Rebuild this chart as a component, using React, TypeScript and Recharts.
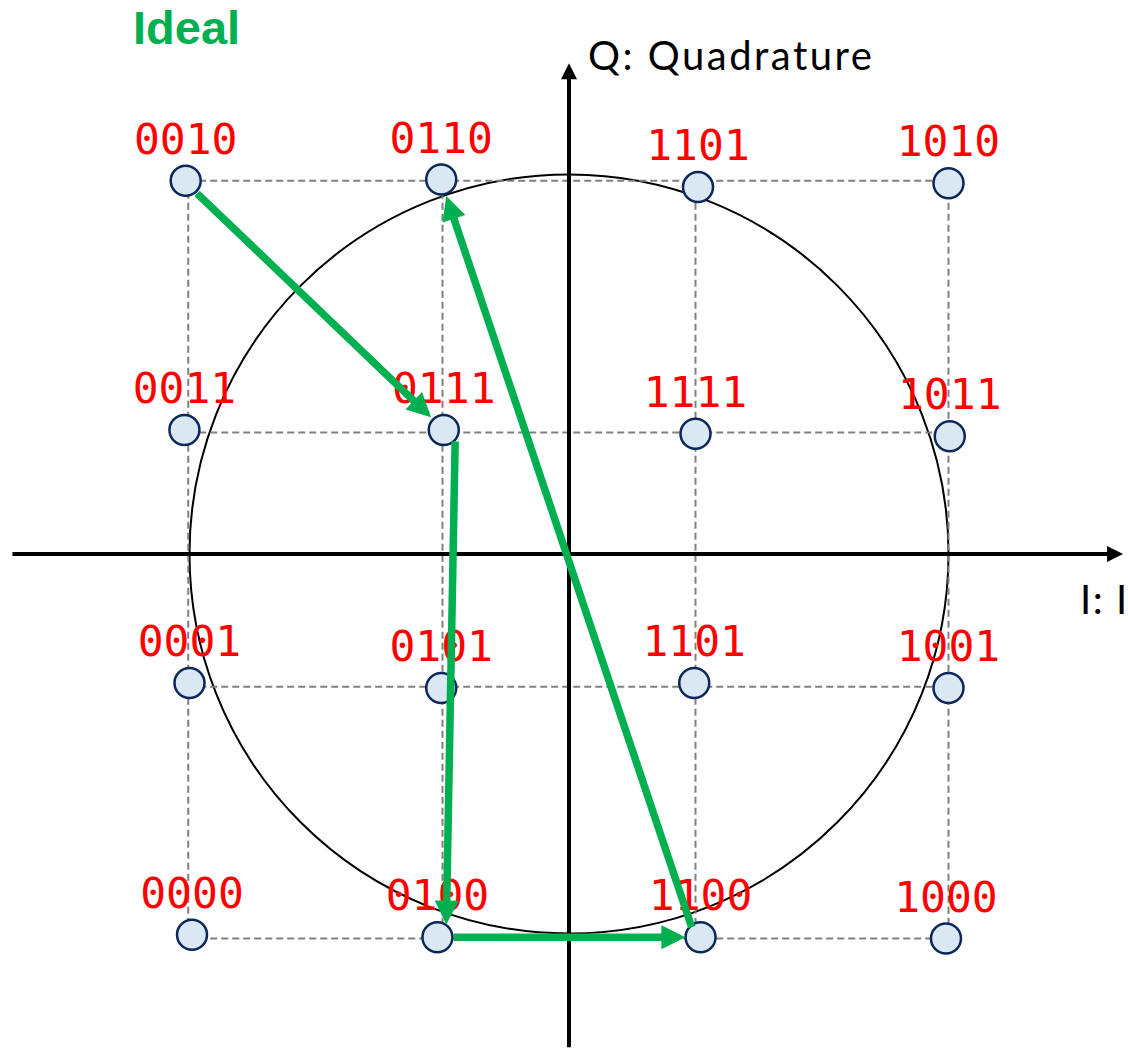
import React from 'react';
import { ScatterChart, Scatter, XAxis, YAxis, ReferenceLine, ReferenceArea } from 'recharts';

// 16-QAM constellation, values (hand placed, so not exactly on the grid)
const codes = [
  '0010', '0110', '1101', '1010',
  '0011', '0111', '1111', '1011',
  '0001', '0101', '1101', '1001',
  '0000', '0100', '1100', '1000',
];
const pointI = [-3.03, -1.01, 1.02, 3.0, -3.04, -0.99, 1.0, 3.01, -3.0, -1.01, 0.99, 3.0, -2.98, -1.04, 1.04, 2.98];
const pointQ = [2.95, 2.96, 2.9, 2.93, 0.98, 0.98, 0.95, 0.93, -1.02, -1.06, -1.02, -1.06, -3.01, -3.03, -3.03, -3.04];

// dashed guide lines
const gridI = [-3.01, -1.0, 1.0, 3.0];
const gridQ = [2.95, 0.96, -1.05, -3.04];

// green path 0010 -> 0111 -> 0100 -> 1100 -> 0110
const arrowFromI = [-2.94, -0.9, -0.91, 0.97];
const arrowFromQ = [2.85, 0.89, -3.03, -2.95];
const arrowToI = [-1.09, -0.97, 0.92, -0.97];
const arrowToQ = [1.08, -2.93, -3.03, 2.83];

const circleRadius = 3;
const axisI = [-4.4, 4.38];
const axisQ = [-3.9, 3.88];

const xDomain = [-4.498, 4.419];
const yDomain = [-3.937, 4.379];

const W = 1128;
const H = 1052;
const GREEN = '#00B050';

const points = codes.map((code, k) => ({ code, i: pointI[k], q: pointQ[k] }));

const Point = (p: any) => {
  const { cx, cy, payload } = p;
  return (
    <g>
      <circle cx={cx} cy={cy} r={15} fill="#DAE8F3" stroke="#0C275A" strokeWidth={2.5} />
      <text
        x={cx}
        y={cy - 27}
        textAnchor="middle"
        fontFamily="'DejaVu Sans Mono', monospace"
        fontSize={43}
        fill="#FF0000"
      >
        {payload.code}
      </text>
    </g>
  );
};

const arrowPath = (x1: number, y1: number, x2: number, y2: number, headLen: number, headW: number) => {
  const len = Math.hypot(x2 - x1, y2 - y1) || 1;
  const ux = (x2 - x1) / len;
  const uy = (y2 - y1) / len;
  const bx = x2 - ux * headLen;
  const by = y2 - uy * headLen;
  const head = `${x2},${y2} ${bx - uy * headW},${by + ux * headW} ${bx + uy * headW},${by - ux * headW}`;
  return { bx: bx + ux, by: by + uy, head };
};

const GreenArrow = (p: any) => {
  const { x1, y1, x2, y2 } = p;
  const a = arrowPath(x1, y1, x2, y2, 24, 12);
  return (
    <g>
      <line x1={x1} y1={y1} x2={a.bx} y2={a.by} stroke={GREEN} strokeWidth={7.5} />
      <polygon points={a.head} fill={GREEN} />
    </g>
  );
};

const AxisArrow = (label: string, dx: number, dy: number, spacing: number) => (p: any) => {
  const { x1, y1, x2, y2 } = p;
  const a = arrowPath(x1, y1, x2, y2, 16, 8);
  return (
    <g>
      <line x1={x1} y1={y1} x2={a.bx} y2={a.by} stroke="#000" strokeWidth={4} />
      <polygon points={a.head} fill="#000" />
      <text
        x={x2 + dx}
        y={y2 + dy}
        fontFamily="Lato, sans-serif"
        fontSize={40}
        letterSpacing={spacing}
        fill="#000"
      >
        {label}
      </text>
    </g>
  );
};

const RingShape = (p: any) => (
  <ellipse
    cx={p.x + p.width / 2}
    cy={p.y + p.height / 2}
    rx={p.width / 2}
    ry={p.height / 2}
    fill="none"
    stroke="#000"
    strokeWidth={2}
  />
);

export default function App() {
  return (
    <div style={{ position: 'absolute', left: 0, top: 0, width: W, height: H, background: '#fff' }}>
      <ScatterChart width={W} height={H} margin={{ top: 0, right: 0, bottom: 0, left: 0 }}>
        <XAxis type="number" dataKey="i" domain={xDomain} allowDataOverflow hide />
        <YAxis type="number" dataKey="q" domain={yDomain} allowDataOverflow hide />

        <ReferenceArea
          x1={-circleRadius}
          x2={circleRadius}
          y1={-circleRadius}
          y2={circleRadius}
          shape={RingShape}
          zIndex={100}
        />

        {gridQ.map((q) => (
          <ReferenceLine
            key={'h' + q}
            segment={[{ x: gridI[0], y: q }, { x: gridI[gridI.length - 1], y: q }]}
            stroke="#808080"
            strokeWidth={2}
            strokeDasharray="7 4"
            zIndex={200}
          />
        ))}
        {gridI.map((i) => (
          <ReferenceLine
            key={'v' + i}
            segment={[{ x: i, y: gridQ[0] }, { x: i, y: gridQ[gridQ.length - 1] }]}
            stroke="#808080"
            strokeWidth={2}
            strokeDasharray="7 4"
            zIndex={200}
          />
        ))}

        <ReferenceLine
          segment={[{ x: axisI[0], y: 0 }, { x: axisI[1], y: 0 }]}
          shape={AxisArrow('I: I', -43, 60, 1.5)}
          zIndex={300}
        />
        <ReferenceLine
          segment={[{ x: 0, y: axisQ[0] }, { x: 0, y: axisQ[1] }]}
          shape={AxisArrow('Q: Quadrature', 19, 7, 2.5)}
          zIndex={300}
        />

        <Scatter data={points} shape={Point} isAnimationActive={false} zIndex={600} />

        {arrowFromI.map((fi, k) => (
          <ReferenceLine
            key={'a' + k}
            segment={[{ x: fi, y: arrowFromQ[k] }, { x: arrowToI[k], y: arrowToQ[k] }]}
            shape={GreenArrow}
            zIndex={1500}
          />
        ))}
      </ScatterChart>
      <svg width={W} height={70} style={{ position: 'absolute', left: 0, top: 0, pointerEvents: 'none' }}>
        <text
          x={133}
          y={43.5}
          fontFamily="'Liberation Sans', Arial, sans-serif"
          fontWeight="bold"
          fontSize={47}
          fill={GREEN}
        >
          Ideal
        </text>
      </svg>
    </div>
  );
}
